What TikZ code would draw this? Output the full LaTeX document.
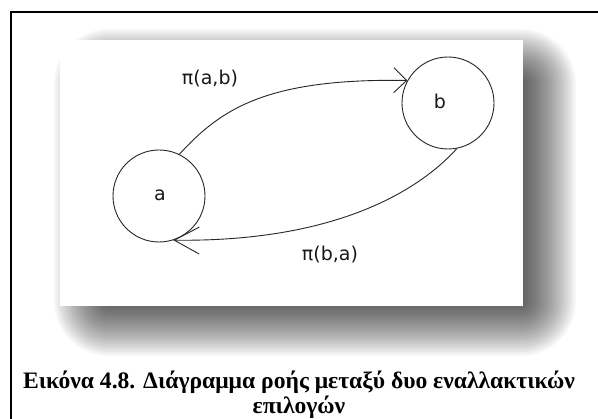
\documentclass[tikz,border=0pt]{standalone}
\usepackage{fontspec}
\setmainfont{Liberation Serif}
\newfontfamily\labfont{DejaVu Sans}
\newfontfamily\capbold{Liberation Serif Bold}
\usetikzlibrary{arrows.meta}
\tikzset{
  circ/.style={circle, draw=black!85, line width=0.9pt, minimum size=92pt, inner sep=0pt},
  lab/.style={font=\labfont\fontsize{19}{22}\selectfont, text=black!90, inner sep=0pt},
  conn/.style={draw=black!85, line width=0.9pt},
  tipA/.style={-{Straight Barb[length=13pt,width=25pt,line width=0.9pt]}},
  tipB/.style={-{Straight Barb[length=25pt,width=27pt,line width=0.9pt]}},
  capfont/.style={font=\capbold\fontsize{23.6}{26}\selectfont, inner sep=0pt, anchor=base}
}
\begin{document}
\begin{tikzpicture}[x=1pt,y=-1pt]
\useasboundingbox (0,0) rectangle (598,419);
\fill[white] (0,0) rectangle (598,419);
% blurred shadow
\foreach \i [evaluate=\i as \r using 2*\i+1] in {0,...,27}{
  \fill[black, opacity=0.032, rounded corners=\r pt] (108-2*\i,83-2*\i) rectangle (522+2*\i,302+2*\i);
}
% white panel
\fill[white] (60,40) rectangle (523,306);
% outer frame
\draw[line width=2pt] (11,419) -- (11,12) -- (598,12);
% nodes
\node[circ] (a) at (159,196) {};
\node[circ] (b) at (448,103) {};
\node[lab] (la) at (160,195) {a};
\node[lab] (lb) at (440,101) {b};
\node[lab] (pab) at (210,79) {π(a,b)};
\node[lab] (pba) at (330,255) {π(b,a)};
% connectors
\draw[conn, tipA] (a.64) .. controls (220,110) and (265,78) .. (b.151);
\draw[conn, tipB] (b.-79) .. controls (410,200) and (320,242) .. (a.-72);
% caption
\node[capfont] (cap1) at (299,389) {Εικόνα 4.8. Διάγραμμα ροής μεταξύ δυο εναλλακτικών};
\node[capfont] (cap2) at (299,414) {επιλογών};
\end{tikzpicture}
\end{document}
